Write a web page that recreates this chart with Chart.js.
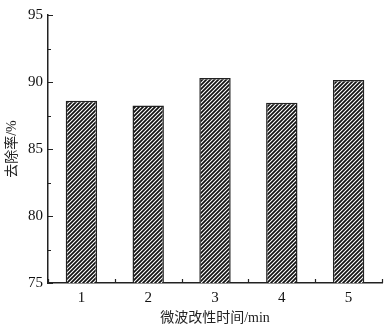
<!DOCTYPE html>
<html>
<head>
<meta charset="utf-8">
<script src="https://cdn.jsdelivr.net/npm/chart.js@4/dist/chart.umd.min.js"></script>
<style>
  html, body { margin: 0; padding: 0; background: #fff; }
  #wrap { width: 387px; height: 331px; position: relative; }
</style>
</head>
<body>
<div id="wrap"><canvas id="myChart"></canvas></div>
<script>
// data
const categories = ['1', '2', '3', '4', '5'];
const removalRate = [88.6, 88.25, 90.3, 88.45, 90.15];
const yTicks = [75, 80, 85, 90, 95];

const fontFamily = '"Liberation Serif", "Times New Roman", "Noto Sans CJK SC", serif';

// hatch pattern for bars
function makeHatch() {
    const c = document.createElement('canvas');
    c.width = 4; c.height = 4;
    const g = c.getContext('2d');
    g.fillStyle = '#111';
    g.fillRect(0, 0, 4, 4);
    g.strokeStyle = '#fff';
    g.lineWidth = 1.1;
    g.beginPath();
    g.moveTo(0, 4); g.lineTo(4, 0);
    g.moveTo(-1, 1); g.lineTo(1, -1);
    g.moveTo(3, 5); g.lineTo(5, 3);
    g.stroke();
    return g.createPattern(c, 'repeat');
}

// inward ticks, drawn from the scales
const innerTicks = {
    id: 'innerTicks',
    afterDraw(chart) {
        const ctx = chart.ctx;
        const x = chart.scales.x, y = chart.scales.y;
        const area = chart.chartArea;
        ctx.save();
        ctx.strokeStyle = '#222';
        ctx.lineWidth = 1.2;
        ctx.beginPath();
        for (let v = 75; v <= 95; v += 2.5) {
            const py = Math.round(y.getPixelForValue(v)) + 0.5;
            const len = (v % 5 === 0) ? 5 : 3;
            ctx.moveTo(area.left, py);
            ctx.lineTo(area.left + len, py);
        }
        for (let i = 0; i <= categories.length; i++) {
            const px = Math.round(x.getPixelForValue(i - 0.5)) + 0.5;
            ctx.moveTo(px, area.bottom);
            ctx.lineTo(px, area.bottom - 4);
        }
        ctx.stroke();
        ctx.restore();
    }
};

const ctx = document.getElementById('myChart').getContext('2d');
const config = {
    type: 'bar',
    data: {
        labels: categories,
        datasets: [{
            data: removalRate,
            backgroundColor: makeHatch(),
            borderColor: '#222',
            borderWidth: 1.5,
            categoryPercentage: 1,
            barPercentage: 0.47,
        }],
    },
    options: {
        responsive: true,
        maintainAspectRatio: false,
        animation: false,
        devicePixelRatio: 1,
        layout: { padding: { top: 15, right: 5, left: 4, bottom: 0 } },
        plugins: {
            legend: { display: false },
            tooltip: { enabled: false },
        },
        scales: {
            x: {
                offset: true,
                grid: { display: false, drawTicks: false, offset: true },
                border: { display: true, color: '#222', width: 1.5 },
                ticks: {
                    color: '#111',
                    padding: 6,
                    font: { family: fontFamily, size: 15 },
                },
                title: {
                    display: true,
                    text: '微波改性时间/min',
                    color: '#222',
                    padding: { top: 4 },
                    font: { family: fontFamily, size: 14 },
                },
                afterFit: s => { s.height = 48; },
            },
            y: {
                min: 75,
                max: 95,
                afterBuildTicks: s => { s.ticks = yTicks.map(v => ({ value: v })); },
                grid: { display: false, drawTicks: false },
                border: { display: true, color: '#222', width: 1.5 },
                ticks: {
                    color: '#111',
                    padding: 5,
                    font: { family: fontFamily, size: 15 },
                },
                title: {
                    display: true,
                    text: '去除率/%',
                    color: '#222',
                    padding: 0,
                    font: { family: fontFamily, size: 14 },
                },
                afterFit: s => { s.width = 44; },
            },
        },
    },
    plugins: [innerTicks],
};

Chart.defaults.color = '#111';
const barChart = new Chart(ctx, config);
</script>
</body>
</html>
